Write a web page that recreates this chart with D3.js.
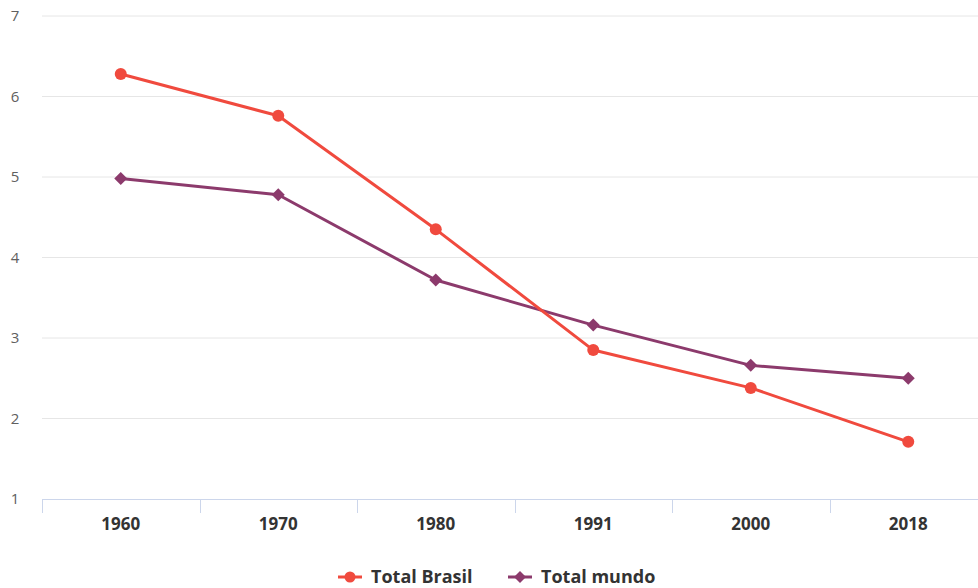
<!DOCTYPE html>
<html>
<head>
<meta charset="utf-8">
<script src="https://cdn.jsdelivr.net/npm/d3@7"></script>
<style>
  html, body { margin: 0; padding: 0; background: #fff; }
  svg { display: block; font-family: "Open Sans", "DejaVu Sans", sans-serif; }
</style>
</head>
<body>
<svg id="chart" width="978" height="588"></svg>
<script>
// Taxa de fecundidade total (filhos por mulher)
const years = ["1960", "1970", "1980", "1991", "2000", "2018"];
const brasil = [6.28, 5.76, 4.35, 2.85, 2.38, 1.71];
const mundo = [4.98, 4.78, 3.72, 3.16, 2.66, 2.50];
const yTicks = [1, 2, 3, 4, 5, 6, 7];
const seriesNames = ["Total Brasil", "Total mundo"];
const seriesColors = ["#f04a3e", "#8c3a6c"];

const svg = d3.select("#chart");
const margin = { left: 42, right: -9, top: 16, bottom: 89 };
const W = 978, H = 588;

const x = d3.scaleBand()
  .domain(years)
  .range([margin.left, W - margin.right])
  .paddingInner(0).paddingOuter(0);

const y = d3.scaleLinear()
  .domain([1, 7])
  .range([H - margin.bottom, margin.top]);

// horizontal grid
svg.append("g")
  .selectAll("line")
  .data(yTicks.slice(1))
  .join("line")
  .attr("x1", margin.left)
  .attr("x2", W)
  .attr("y1", d => y(d))
  .attr("y2", d => y(d))
  .attr("stroke", "#e6e6e6")
  .attr("stroke-width", 1);

// y labels
svg.append("g")
  .selectAll("text")
  .data(yTicks)
  .join("text")
  .attr("x", 15)
  .attr("y", d => y(d))
  .attr("dy", "0.35em")
  .attr("text-anchor", "middle")
  .attr("fill", "#606060")
  .attr("font-size", 15)
  .text(d => d);

// x axis with band-edge ticks
const gx = svg.append("g")
  .attr("transform", `translate(0,${y(1)})`);
gx.append("line")
  .attr("x1", margin.left).attr("x2", W)
  .attr("y1", 0.5).attr("y2", 0.5)
  .attr("stroke", "#ccd6eb");
gx.selectAll("line.tick")
  .data(years.concat(["end"]))
  .join("line")
  .attr("class", "tick")
  .attr("x1", (d, i) => Math.round(margin.left + i * x.step()) + 0.5)
  .attr("x2", (d, i) => Math.round(margin.left + i * x.step()) + 0.5)
  .attr("y1", 0).attr("y2", 14)
  .attr("stroke", "#ccd6eb");
gx.selectAll("text")
  .data(years)
  .join("text")
  .attr("x", d => x(d) + x.bandwidth() / 2)
  .attr("y", 25)
  .attr("dy", "0.35em")
  .attr("text-anchor", "middle")
  .attr("fill", "#333333")
  .attr("font-weight", "bold")
  .attr("font-size", 17)
  .text(d => d);

const cx = d => x(d) + x.bandwidth() / 2;
const line = d3.line().x(d => cx(d.year)).y(d => y(d.v));

// square diamond marker (rotated square)
const diamond = r => `M0,${-r}L${r},0L0,${r}L${-r},0Z`;
const circle = r => d3.symbol().type(d3.symbolCircle).size(Math.PI * r * r)();

const series = [brasil, mundo].map((vals, k) => ({
  name: seriesNames[k],
  color: seriesColors[k],
  marker: k === 0 ? circle : diamond,
  r: k === 0 ? 6 : 6.5,
  points: years.map((yr, i) => ({ year: yr, v: vals[i] }))
}));

// draw the world series first so Brazil sits on top
series.slice().reverse().forEach(s => {
  const g = svg.append("g");
  g.append("path")
    .datum(s.points)
    .attr("d", line)
    .attr("fill", "none")
    .attr("stroke", s.color)
    .attr("stroke-width", 3)
    .attr("stroke-linejoin", "round");
  g.selectAll("path.m")
    .data(s.points)
    .join("path")
    .attr("class", "m")
    .attr("transform", d => `translate(${cx(d.year)},${y(d.v)})`)
    .attr("d", s.marker(s.r))
    .attr("fill", s.color);
});

// legend
const legendItems = [
  { x: 338, s: series[0] },
  { x: 508, s: series[1] }
];
const lg = svg.append("g").attr("transform", "translate(0,577)");
legendItems.forEach(it => {
  const g = lg.append("g").attr("transform", `translate(${it.x},0)`);
  g.append("line")
    .attr("x1", 0).attr("x2", 24)
    .attr("stroke", it.s.color).attr("stroke-width", 3);
  g.append("path")
    .attr("transform", "translate(12,0)")
    .attr("d", it.s.marker(it.s.r - 0.5))
    .attr("fill", it.s.color);
  g.append("text")
    .attr("x", 33)
    .attr("dy", "0.35em")
    .attr("fill", "#333333")
    .attr("font-weight", "bold")
    .attr("font-size", 18)
    .text(it.s.name);
});
</script>
</body>
</html>
